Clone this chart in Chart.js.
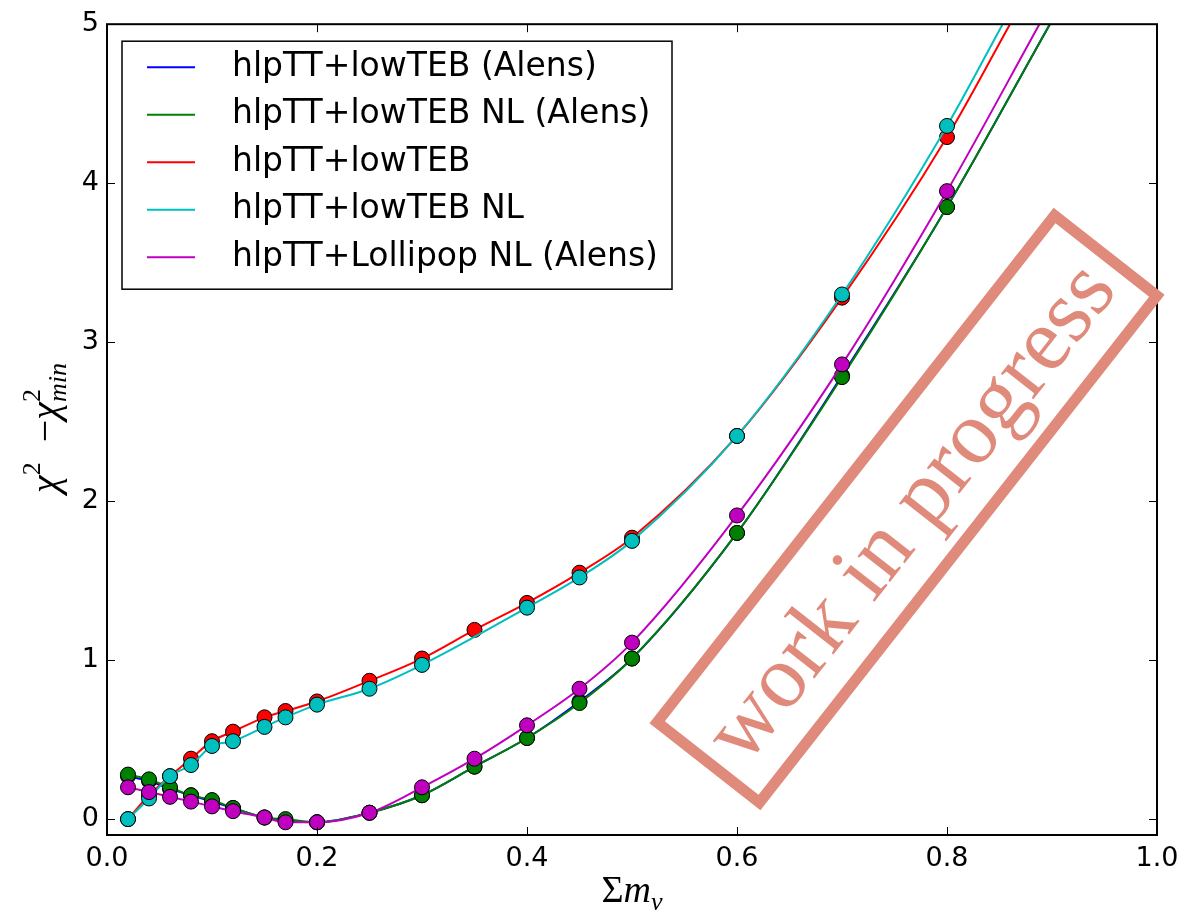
<!DOCTYPE html>
<html>
<head>
<meta charset="utf-8">
<script src="https://cdn.jsdelivr.net/npm/chart.js@4/dist/chart.umd.min.js"></script>
<style>
	html, body { margin: 0; padding: 0; background: #fff; }
	canvas { display: block; }
</style>
</head>
<body>
<canvas id="chartChi2" width="1195" height="912"></canvas>
<script>
// sum of neutrino masses sampled
var massas = [0.02, 0.04, 0.06, 0.08, 0.10, 0.12, 0.15, 0.17, 0.20, 0.25, 0.30, 0.35, 0.40, 0.45, 0.50, 0.60, 0.70, 0.80];

var chi2LowTEBAlens   = [0.27, 0.24, 0.19, 0.15, 0.11, 0.07, 0.01, -0.01, -0.02, 0.04, 0.15, 0.33, 0.51, 0.74, 1.01, 1.80, 2.79, 3.85];
var chi2LowTEBNLAlens = [0.28, 0.25, 0.20, 0.15, 0.12, 0.07, 0.01, 0.00, -0.02, 0.04, 0.15, 0.33, 0.51, 0.73, 1.01, 1.80, 2.78, 3.85];
var chi2LowTEB        = [0.00, 0.15, 0.27, 0.38, 0.49, 0.55, 0.64, 0.68, 0.74, 0.87, 1.01, 1.19, 1.36, 1.55, 1.77, 2.41, 3.28, 4.29];
var chi2LowTEBNL      = [0.00, 0.13, 0.27, 0.34, 0.46, 0.49, 0.58, 0.64, 0.72, 0.82, 0.97, null, 1.33, 1.52, 1.75, 2.41, 3.30, 4.36];
var chi2LollipopNL    = [0.20, 0.17, 0.14, 0.11, 0.08, 0.05, 0.01, -0.02, -0.02, 0.04, 0.20, 0.38, 0.59, 0.82, 1.11, 1.91, 2.86, 3.95];

// where each fitted curve leaves the top of the frame
var fimCurvaX = [0.898, 0.898, 0.860, 0.853, 0.888];
var fimCurvaY = [5, 5, 5, 5, 5];

var rotulos = [
	'hlpTT+lowTEB (Alens)',
	'hlpTT+lowTEB NL (Alens)',
	'hlpTT+lowTEB',
	'hlpTT+lowTEB NL',
	'hlpTT+Lollipop NL (Alens)'
];
var cores = ['#0000ff', '#008000', '#ff0000', '#00bfbf', '#bf00bf'];
var series = [chi2LowTEBAlens, chi2LowTEBNLAlens, chi2LowTEB, chi2LowTEBNL, chi2LollipopNL];

var ticksX = [0.0, 0.2, 0.4, 0.6, 0.8, 1.0];
var ticksY = [0, 1, 2, 3, 4, 5];

var FONTE_SANS = "'DejaVu Sans', sans-serif";
var FONTE_SERIF = "'Liberation Serif', 'DejaVu Serif', serif";
var COR_CARIMBO = '#e08a7c';

function montaDataset(i) {
	var pontos = [];
	series[i].forEach(function(y, k) {
		if (y !== null) pontos.push({ x: massas[k], y: y });
	});
	var nMarcadores = pontos.length;
	pontos.push({ x: fimCurvaX[i], y: fimCurvaY[i] });
	return {
		label: rotulos[i],
		data: pontos,
		showLine: true,
		borderColor: cores[i],
		borderWidth: 2,
		backgroundColor: cores[i],
		pointBackgroundColor: cores[i],
		pointBorderColor: '#000',
		pointBorderWidth: 1,
		pointRadius: function(c) { return c.dataIndex < nMarcadores ? 7.5 : 0; },
		pointHoverRadius: 0,
		cubicInterpolationMode: 'monotone',
		order: series.length - i
	};
}

// draws a run of text pieces starting at x (baseline y), returns the width
function textoComposto(ctx, pedacos, x, y, medir) {
	var pos = x;
	pedacos.forEach(function(p) {
		ctx.font = p.font;
		var w = ctx.measureText(p.t).width;
		if (!medir) ctx.fillText(p.t, pos, y + (p.dy || 0));
		if (!p.semAvanco) pos += w;
	});
	return pos - x;
}

var molduraPlugin = {
	id: 'moldura',
	afterDatasetsDraw: function(chart) {
		var ctx = chart.ctx;
		var a = chart.chartArea;
		var sx = chart.scales.x, sy = chart.scales.y;
		ctx.save();

		// inward ticks on all four sides
		ctx.strokeStyle = '#000';
		ctx.lineWidth = 1;
		ctx.beginPath();
		ticksX.forEach(function(v) {
			var px = Math.round(sx.getPixelForValue(v)) + 0.5;
			ctx.moveTo(px, a.bottom); ctx.lineTo(px, a.bottom - 8);
			ctx.moveTo(px, a.top); ctx.lineTo(px, a.top + 8);
		});
		ticksY.forEach(function(v) {
			var py = Math.round(sy.getPixelForValue(v)) + 0.5;
			ctx.moveTo(a.left, py); ctx.lineTo(a.left + 8, py);
			ctx.moveTo(a.right, py); ctx.lineTo(a.right - 8, py);
		});
		ctx.stroke();

		// frame
		ctx.lineWidth = 2;
		ctx.strokeRect(a.left, a.top, a.right - a.left, a.bottom - a.top);

		// legend
		var lx = a.left + 15, ly = a.top + 17;
		ctx.fillStyle = '#fff';
		ctx.fillRect(lx, ly, 550, 248);
		ctx.lineWidth = 1.5;
		ctx.strokeStyle = '#000';
		ctx.strokeRect(lx, ly, 550, 248);
		ctx.font = '33px ' + FONTE_SANS;
		ctx.textBaseline = 'middle';
		rotulos.forEach(function(r, i) {
			var yy = ly + 26 + i * 47.5;
			ctx.strokeStyle = cores[i];
			ctx.lineWidth = 2;
			ctx.beginPath();
			ctx.moveTo(lx + 25, yy); ctx.lineTo(lx + 73, yy);
			ctx.stroke();
			ctx.fillStyle = '#000';
			ctx.fillText(r, lx + 110, yy);
		});

		// "work in progress" stamp
		ctx.translate(907, 509);
		ctx.rotate(-51.9 * Math.PI / 180);
		ctx.strokeStyle = COR_CARIMBO;
		ctx.lineWidth = 11;
		ctx.strokeRect(-322, -65, 644, 130);
		ctx.fillStyle = COR_CARIMBO;
		ctx.font = '90px ' + FONTE_SERIF;
		ctx.textAlign = 'center';
		ctx.textBaseline = 'middle';
		ctx.fillText('work in progress', 0, 8);
		ctx.restore();

		// axis titles
		ctx.save();
		ctx.fillStyle = '#000';
		ctx.textBaseline = 'alphabetic';
		ctx.textAlign = 'left';
		var italico = 'italic 38px ' + FONTE_SERIF;
		var tituloX = [
			{ t: '\u03A3', font: '38px ' + FONTE_SERIF },
			{ t: 'm', font: italico },
			{ t: '\u03BD', font: 'italic 26px ' + FONTE_SERIF, dy: 8 }
		];
		var wx = textoComposto(ctx, tituloX, 0, 0, true);
		textoComposto(ctx, tituloX, (a.left + a.right) / 2 - wx / 2, 902);

		var chi = 'italic 40px ' + FONTE_SERIF;
		var tituloY = [
			{ t: '\u03C7', font: chi },
			{ t: '2', font: '26px ' + FONTE_SERIF, dy: -18 },
			{ t: '  \u2212', font: '40px ' + FONTE_SERIF },
			{ t: '\u03C7', font: chi },
			{ t: '2', font: '26px ' + FONTE_SERIF, dy: -18, semAvanco: true },
			{ t: 'min', font: 'italic 26px ' + FONTE_SERIF, dy: 8 }
		];
		var wy = textoComposto(ctx, tituloY, 0, 0, true);
		ctx.translate(58, 428);
		ctx.rotate(-Math.PI / 2);
		textoComposto(ctx, tituloY, -wy / 2, 0);
		ctx.restore();
	}
};

var datasets = series.map(function(s, i) { return montaDataset(i); });

var grafico = new Chart(document.getElementById('chartChi2'), {
	type: 'scatter',
	data: { datasets: datasets },
	options: {
		responsive: false,
		animation: false,
		events: [],
		layout: { padding: { left: 0, top: 20, right: 38, bottom: 0 } },
		plugins: {
			legend: { display: false },
			tooltip: { enabled: false }
		},
		scales: {
			x: {
				type: 'linear',
				min: 0,
				max: 1,
				afterBuildTicks: function(scale) {
					scale.ticks = ticksX.map(function(v) { return { value: v }; });
				},
				afterFit: function(scale) { scale.height = 77; },
				grid: { display: false, drawTicks: false },
				border: { display: false },
				ticks: {
					color: '#000',
					padding: 8,
					font: { family: FONTE_SANS, size: 27 },
					maxRotation: 0,
					callback: function(v) { return Number(v).toFixed(1); }
				}
			},
			y: {
				type: 'linear',
				min: -0.1,
				max: 5,
				afterBuildTicks: function(scale) {
					scale.ticks = ticksY.map(function(v) { return { value: v }; });
				},
				afterFit: function(scale) { scale.width = 107; },
				grid: { display: false, drawTicks: false },
				border: { display: false },
				ticks: {
					color: '#000',
					padding: 8,
					font: { family: FONTE_SANS, size: 27 },
					callback: function(v) { return String(v); }
				}
			}
		}
	},
	plugins: [molduraPlugin]
});
</script>
</body>
</html>
